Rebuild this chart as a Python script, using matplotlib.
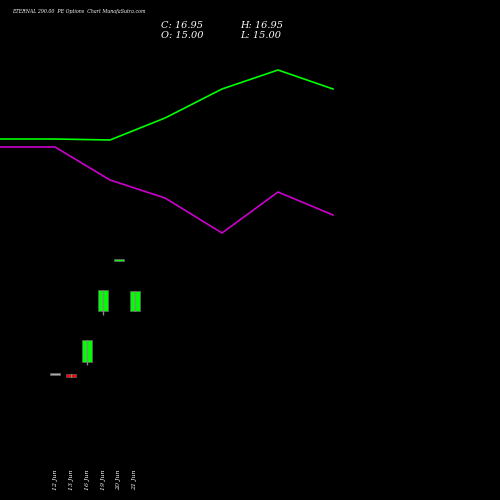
import matplotlib
matplotlib.use("Agg")
import matplotlib.pyplot as plt

dates = ["12 Jun", "13 Jun", "16 Jun", "19 Jun", "20 Jun", "21 Jun"]
opens = [8.75, 8.85, 10.05, 15.00, 19.90, 15.00]
closes = [8.75, 8.60, 12.15, 17.00, 20.10, 16.95]
highs = [8.75, 8.85, 12.15, 17.00, 20.10, 16.95]
lows = [8.75, 8.60, 9.70, 14.60, 19.90, 15.00]

line_x = [0, 55, 110, 165, 222, 278, 333]
green_line = [361, 361, 360, 382, 411, 430, 411]
purple_line = [353, 353, 320, 302, 267, 308, 285]

fig = plt.figure(figsize=(5, 5), dpi=100, facecolor="black")
ax = fig.add_axes([0, 0, 1, 1], facecolor="black")
ax.set_xlim(-55 / 16, (500 - 55) / 16)
ax.set_ylim(-3.43, 45.3)
ax.axis("off")

for i in range(len(dates)):
    up = closes[i] >= opens[i]
    col = "#00ff00" if up else "#ff0000"
    if abs(closes[i] - opens[i]) < 0.1 and i == 0:
        col = "#aaaaaa"
    ax.vlines(i, lows[i], highs[i], color="#888888", lw=1)
    lo = min(opens[i], closes[i])
    h = max(abs(closes[i] - opens[i]), 0.2)
    ax.bar(i, h, bottom=lo, width=0.6, color=col, edgecolor="#666666", lw=0.5)
    ax.text(i, -0.5, dates[i], rotation=90, color="white", fontsize=4.5,
            ha="center", va="top", family="serif", style="italic")

ax2 = fig.add_axes([0, 0, 1, 1], facecolor="none")
ax2.set_xlim(0, 500)
ax2.set_ylim(0, 500)
ax2.axis("off")
ax2.plot(line_x, green_line, color="#00ff00", lw=1.2)
ax2.plot(line_x, purple_line, color="#cc00cc", lw=1.2)

fig.text(0.024, 0.981, "ETERNAL 290.00  PE Options  Chart MunafaSutra.com", color="white",
         fontsize=3.4, family="serif", style="italic", va="top")
fig.text(0.322, 0.944, "C: 16.95", color="white", fontsize=7, family="serif", style="italic")
fig.text(0.48, 0.944, "H: 16.95", color="white", fontsize=7, family="serif", style="italic")
fig.text(0.322, 0.925, "O: 15.00", color="white", fontsize=7, family="serif", style="italic")
fig.text(0.48, 0.925, "L: 15.00", color="white", fontsize=7, family="serif", style="italic")

fig.savefig("out.png", facecolor="black")
